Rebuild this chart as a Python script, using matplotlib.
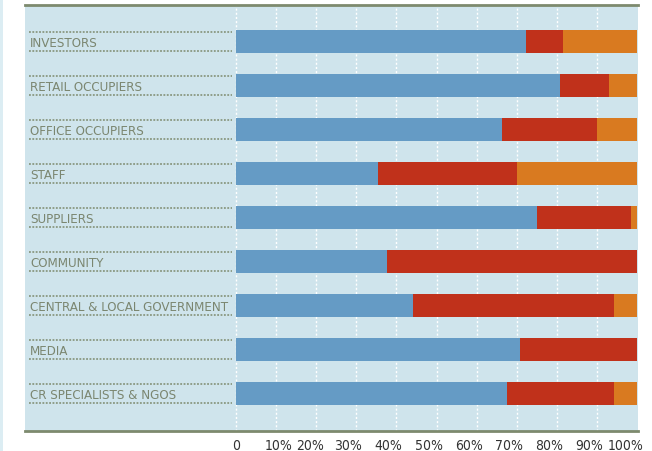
import matplotlib
matplotlib.use("Agg")
import matplotlib.pyplot as plt
import matplotlib.transforms as mtransforms
import numpy as np

categories = ["INVESTORS", "RETAIL OCCUPIERS", "OFFICE OCCUPIERS", "STAFF", "SUPPLIERS",
              "COMMUNITY", "CENTRAL & LOCAL GOVERNMENT", "MEDIA", "CR SPECIALISTS & NGOS"]
blue_vals = [72.3, 80.8, 66.3, 35.4, 75.1, 37.7, 44.1, 70.8, 67.6]
red_vals = [9.2, 12.2, 23.7, 34.7, 23.4, 62.3, 50.2, 29.2, 26.7]
orange_vals = [18.5, 7.0, 10.0, 29.9, 1.5, 0.0, 5.7, 0.0, 5.7]
tick_vals = [0, 10, 20, 30, 40, 50, 60, 70, 80, 90, 100]
tick_labels = ["0", "10%", "20%", "30%", "40%", "50%", "60%", "70%", "80%", "90%", "100%"]

BLUE = "#659bc5"
RED = "#c0311b"
ORANGE = "#d97a20"
PANEL = "#cfe4ec"
OLIVE = "#7d8a6e"
TEXT = "#7b8670"

W, H = 652, 452
fig = plt.figure(figsize=(W / 100, H / 100), dpi=100)
fig.patch.set_facecolor("white")
fig.patches.append(matplotlib.patches.Rectangle((0, 0), 2.5 / W, 1, transform=fig.transFigure,
                                                facecolor="#dcedf3", edgecolor="none"))

x0, x1 = 25, 638
y_top, y_bot = 6, 432
ax = fig.add_axes([x0 / W, (H - y_bot) / H, (x1 - x0) / W, (y_bot - y_top) / H])
ax.set_facecolor(PANEL)

px_per = 4.01
zero_px = 236
ax.set_xlim(-(zero_px - x0) / px_per, (x1 - zero_px) / px_per)
ax.set_ylim(8 + 37.5 / 44, -36.5 / 44)

y = np.arange(len(categories))
h = 23 / 44
b = np.array(blue_vals)
r = np.array(red_vals)
o = np.array(orange_vals)

for gx in tick_vals[:-1]:
    ax.axvline(gx, color="white", lw=1.0, ls=(0, (1.5, 1.5)), zorder=1)

ax.barh(y, b, height=h, color=BLUE, zorder=2)
ax.barh(y, r, left=b, height=h, color=RED, zorder=2)
ax.barh(y, o, left=b + r, height=h, color=ORANGE, zorder=2)

lx0 = (29 - zero_px) / px_per
lx1 = (232 - zero_px) / px_per
for yi, cat in zip(y, categories):
    for dy in (-0.227, 0.227):
        ax.plot([lx0, lx1], [yi + dy, yi + dy], color=OLIVE, lw=1.1,
                ls=(0, (1.2, 1.0)), zorder=3, solid_capstyle="butt")
    ax.text((30 - zero_px) / px_per, yi + 0.02, cat, ha="left", va="center", color=TEXT,
            fontsize=9.5, family="DejaVu Sans", fontstretch="condensed", zorder=4)

ax.set_xticks(tick_vals)
ax.set_xticklabels(tick_labels, fontsize=10, color="#333333", family="DejaVu Sans",
                   fontstretch="condensed")
ax.tick_params(axis="x", length=0, pad=5)
offsets_px = [0, 2, -6, -8, -8, -8, -8, -8, -8, -8, -11]
for lab, dx in zip(ax.get_xticklabels(), offsets_px):
    lab.set_transform(lab.get_transform() + mtransforms.ScaledTranslation(dx / 100, 0, fig.dpi_scale_trans))
ax.set_yticks([])
for s in ("left", "right"):
    ax.spines[s].set_visible(False)
for s in ("top", "bottom"):
    ax.spines[s].set_color(OLIVE)
    ax.spines[s].set_linewidth(2)

fig.savefig("out.png", dpi=100, facecolor="white")
